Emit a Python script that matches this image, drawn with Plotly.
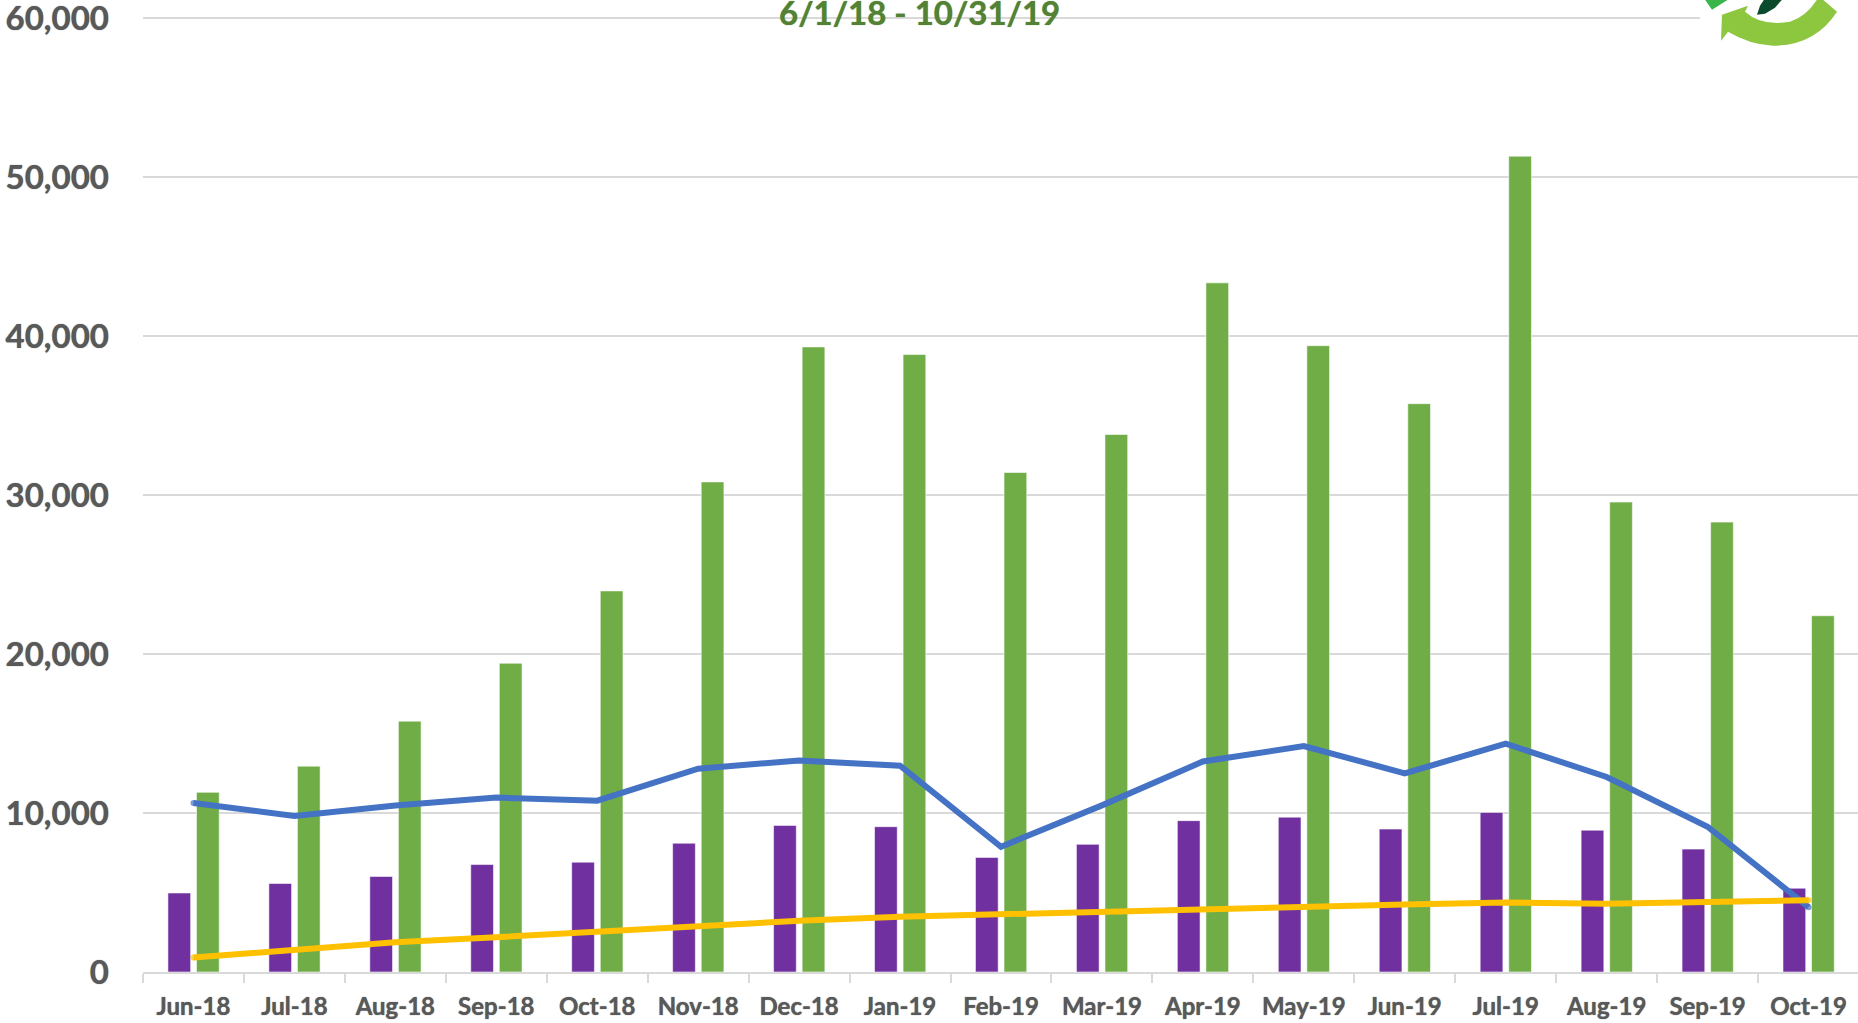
import plotly.graph_objects as go

months = ["Jun-18","Jul-18","Aug-18","Sep-18","Oct-18","Nov-18","Dec-18","Jan-19","Feb-19","Mar-19","Apr-19","May-19","Jun-19","Jul-19","Aug-19","Sep-19","Oct-19"]
purple_values = [4970,5570,6010,6760,6910,8100,9220,9140,7210,8030,9520,9740,8990,10040,8920,7730,5270]
green_values = [11300,12950,15780,19420,23970,30830,39320,38840,31420,33810,43350,39400,35750,51320,29560,28300,22410]
blue_values = [10630,9810,10480,10970,10780,12790,13310,12980,7880,10480,13240,14210,12500,14360,12270,9140,4080]
yellow_values = [910,1410,1875,2190,2560,2900,3220,3480,3650,3800,3960,4120,4240,4370,4300,4410,4510]
y_ticks = [0,10000,20000,30000,40000,50000,60000]
title_text = "6/1/18 - 10/31/19"

W, H = 1858, 1023
Y_MAX = 60200
L, R, B = 143, 1858, 972.5
T = B - 159 * Y_MAX / 10000
FONT = "Lato"
GREY = "#595959"
GREY_SHADOW = "0 0 1px #595959"
GREEN_SHADOW = "0 0 1px #548235"

def px(x): return (x - L) / (R - L)
def py(y): return (B - y) / (B - T)
def pt(a, b): return f"{px(a):.5f},{py(b):.5f}"

fig = go.Figure()
bar_line = dict(color="rgba(255,255,255,0.55)", width=1)
fig.add_bar(x=months, y=purple_values, name="Purple", width=0.225, offset=-0.253,
            marker=dict(color="#7030A0", line=bar_line))
fig.add_bar(x=months, y=green_values, name="Green", width=0.225, offset=0.03,
            marker=dict(color="#70AD47", line=bar_line))
cap_sizes = [6] + [0] * 15 + [6]
fig.add_scatter(x=months, y=blue_values, mode="lines+markers", name="Blue",
                line=dict(color="#4472C4", width=6), marker=dict(size=cap_sizes, color="#4472C4", line_width=0))
fig.add_scatter(x=months, y=yellow_values, mode="lines+markers", name="Yellow",
                line=dict(color="#FFC000", width=6), marker=dict(size=cap_sizes, color="#FFC000", line_width=0))

def polygon(pts):
    return "M " + " L ".join(pt(a, b) for a, b in pts) + " Z"

arrow_path = (f"M {pt(1721,41)} L {pt(1722,15)} L {pt(1748,6)} L {pt(1745,12)} "
              f"Q {pt(1762,27)} {pt(1790,22)} Q {pt(1806,17)} {pt(1817,0)} L {pt(1823,0)} L {pt(1837,12)} "
              f"Q {pt(1815,46)} {pt(1773,46)} Q {pt(1750,45)} {pt(1728,32)} Z")

shapes = [
    dict(type="rect", xref="paper", yref="paper", x0=px(1700), x1=1, y0=py(70), y1=py(0),
         fillcolor="white", line_width=0, layer="above"),
    dict(type="path", xref="paper", yref="paper", layer="above", fillcolor="#8DC63F", line_width=0, path=arrow_path),
    dict(type="path", xref="paper", yref="paper", layer="above", fillcolor="#39B54A", line_width=0,
         path=polygon([(1705,0),(1728,0),(1712,10)])),
    dict(type="path", xref="paper", yref="paper", layer="above", fillcolor="#0B4A2B", line_width=0,
         path=polygon([(1757,15),(1760,6),(1764,0),(1782,0),(1775,8),(1765,14)])),
]

fig.update_layout(
    width=W, height=H, autosize=False,
    margin=dict(l=L, r=W - R, t=T, b=H - B, pad=0, autoexpand=False),
    paper_bgcolor="white", plot_bgcolor="white",
    showlegend=False, barmode="overlay",
    font=dict(family=FONT, color=GREY),
    shapes=shapes,
    annotations=[dict(text=f"<b>{title_text}</b>", xref="paper", yref="paper",
                      x=px(919), y=py(12), xanchor="center", yanchor="middle", showarrow=False,
                      font=dict(family=FONT, size=33, color="#548235", shadow=GREEN_SHADOW))],
    xaxis=dict(type="category", categoryorder="array", categoryarray=months, automargin=False,
               range=[-0.5, 16.49], tickson="boundaries", ticks="outside", ticklen=9, tickwidth=1.5,
               tickcolor="#D9D9D9", showline=True, linecolor="#D9D9D9", linewidth=1.5, showgrid=False,
               tickfont=dict(family=FONT, size=24, color=GREY, weight="bold", shadow=GREY_SHADOW), tickangle=0,
               ticklabelstandoff=12),
    yaxis=dict(range=[0, Y_MAX], tickvals=y_ticks, ticktext=[f"{v:,}" for v in y_ticks], automargin=False,
               showgrid=True, gridcolor="#D9D9D9", gridwidth=1.5, zeroline=False, ticks="",
               ticklabeloverflow="allow", ticklabelstandoff=33,
               tickfont=dict(family=FONT, size=33, color=GREY, weight="bold", shadow=GREY_SHADOW)),
)

fig.write_html("out.html", config={"displayModeBar": False},
               post_script="document.body.style.margin='0';document.body.style.overflow='hidden';")
